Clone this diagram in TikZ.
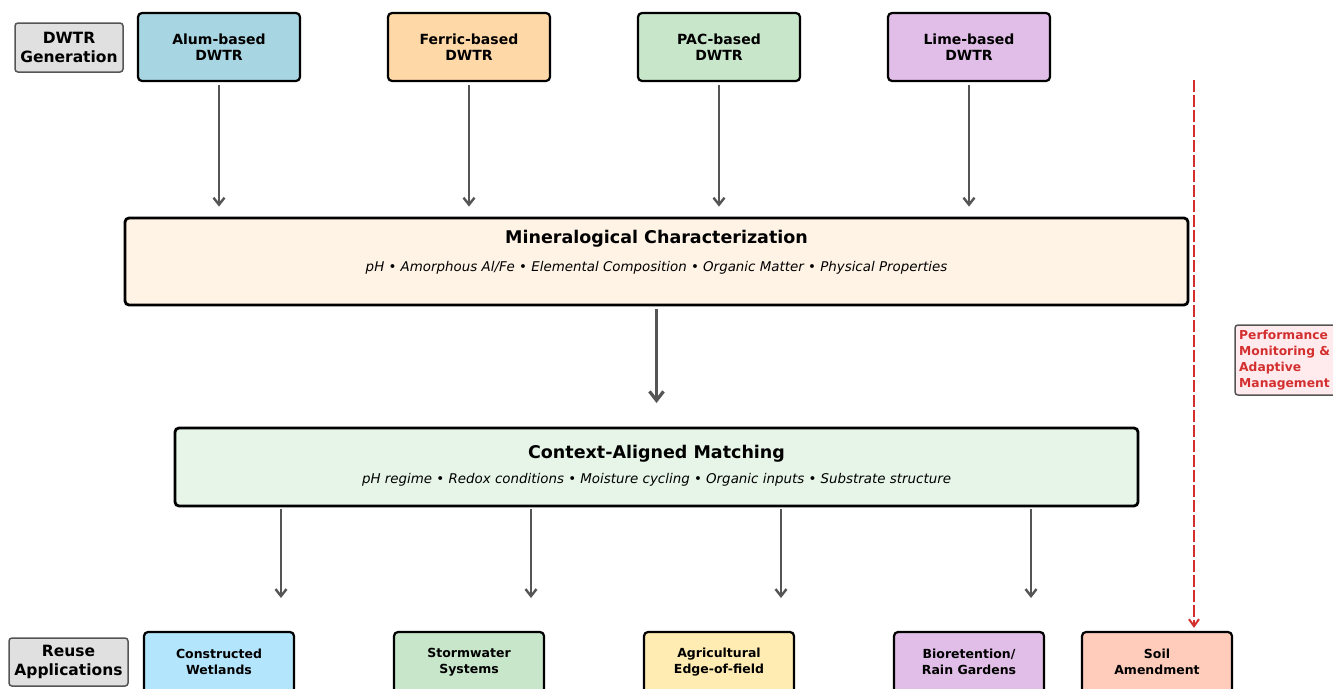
\documentclass[tikz,border=0pt]{standalone}
\usepackage{fontspec}
\setmainfont{DejaVu Sans}
\usetikzlibrary{arrows.meta}
\definecolor{alumc}{HTML}{A8D5E2}
\definecolor{ferricc}{HTML}{FFD8A8}
\definecolor{pacc}{HTML}{C8E6C9}
\definecolor{limec}{HTML}{E1BEE7}
\definecolor{labelc}{HTML}{E0E0E0}
\definecolor{edgegray}{HTML}{555555}
\definecolor{minc}{HTML}{FFF3E5}
\definecolor{ctxc}{HTML}{E6F5E8}
\definecolor{wetc}{HTML}{B3E5FC}
\definecolor{stormc}{HTML}{C8E6C9}
\definecolor{agric}{HTML}{FFECB3}
\definecolor{bioc}{HTML}{E1BEE7}
\definecolor{soilc}{HTML}{FFCCBC}
\definecolor{redc}{HTML}{D32F2F}
\definecolor{perfc}{HTML}{FFEBEE}
\tikzset{
  lblbox/.style={draw=edgegray, line width=1.5pt, rounded corners=3pt, fill=labelc, inner sep=0pt, align=center, font=\fontsize{15.5}{19}\selectfont\bfseries},
  topbox/.style={draw=black, line width=2.2pt, rounded corners=4pt, minimum width=162pt, minimum height=68pt, inner sep=0pt, align=center, font=\fontsize{14}{16}\selectfont\bfseries},
  botbox/.style={draw=black, line width=2.2pt, rounded corners=4pt, minimum width=150pt, minimum height=68pt, inner sep=0pt},
  bottxt/.style={inner sep=0pt, align=center, font=\fontsize{12.5}{16}\selectfont\bfseries},
  mainbox/.style={draw=black, line width=2.8pt, rounded corners=4pt, inner sep=0pt},
  maintitle/.style={inner sep=0pt, font=\fontsize{17.5}{20}\selectfont\bfseries},
  mainsub/.style={inner sep=0pt, font=\fontsize{13.4}{16}\selectfont\itshape},
  arr/.style={draw=edgegray, line width=2.4pt, -{Straight Barb[length=7pt,width=11pt,line width=2.4pt]}},
  bigarr/.style={draw=edgegray, line width=3.2pt, -{Straight Barb[length=9pt,width=14pt,line width=3.2pt]}},
  redarr/.style={draw=redc, line width=2pt, dash pattern=on 12pt off 3pt, -{Straight Barb[length=7pt,width=10pt,line width=2pt]}},
}
\begin{document}
\begin{tikzpicture}[x=1pt,y=-1pt]
\useasboundingbox (0,0) rectangle (1333,688);
\clip (0,0) rectangle (1333,688);

% row labels
\node[lblbox, minimum width=108pt, minimum height=49pt] (genlbl) at (69,47.5) {DWTR\\Generation};
\node[lblbox, minimum width=119pt, minimum height=48pt] (reulbl) at (68.5,662) {Reuse\\Applications};

% top boxes
\node[topbox, fill=alumc] (alum) at (219,47) {Alum-based\\DWTR};
\node[topbox, fill=ferricc] (ferric) at (469,47) {Ferric-based\\DWTR};
\node[topbox, fill=pacc] (pac) at (719,47) {PAC-based\\DWTR};
\node[topbox, fill=limec] (lime) at (969,47) {Lime-based\\DWTR};

% mineralogical characterization
\node[mainbox, fill=minc, minimum width=1063pt, minimum height=87pt] (mineral) at (656.5,261.5) {};
\node[maintitle] (mintitle) at (656.5,239) {Mineralogical Characterization};
\node[mainsub] (minsub) at (656.5,268) {pH • Amorphous Al/Fe • Elemental Composition • Organic Matter • Physical Properties};

% context-aligned matching
\node[mainbox, fill=ctxc, minimum width=963pt, minimum height=78pt] (context) at (656.5,467) {};
\node[maintitle] (ctxtitle) at (656.5,454) {Context-Aligned Matching};
\node[mainsub] (ctxsub) at (656.5,480) {pH regime • Redox conditions • Moisture cycling • Organic inputs • Substrate structure};

% bottom boxes
\node[botbox, fill=wetc] (wet) at (219,666) {};
\node[bottxt] (wett) at (219,662) {Constructed\\Wetlands};
\node[botbox, fill=stormc] (storm) at (469,666) {};
\node[bottxt] (stormt) at (469,662) {Stormwater\\Systems};
\node[botbox, fill=agric] (agri) at (719,666) {};
\node[bottxt] (agrit) at (719,662) {Agricultural\\Edge-of-field};
\node[botbox, fill=bioc] (bio) at (969,666) {};
\node[bottxt] (biot) at (969,662) {Bioretention/\\Rain Gardens};
\node[botbox, fill=soilc] (soil) at (1157,666) {};
\node[bottxt] (soilt) at (1157,662) {Soil\\Amendment};

% performance monitoring
\node[draw=edgegray, line width=1.5pt, rounded corners=3pt, fill=perfc, minimum width=110pt, minimum height=70pt, inner sep=0pt] (perf) at (1290,360) {};
\node[anchor=west, inner sep=0pt, align=left, text=redc, font=\fontsize{12.3}{16}\selectfont\bfseries] (perft) at (1239,360) {Performance\\Monitoring \&\\Adaptive\\Management};

% arrows top -> mineral
\foreach \n in {alum,ferric,pac,lime}{
  \draw[arr, shorten <=3pt, shorten >=10pt] (\n.south) -- (\n.south |- mineral.north);
}
% mineral -> context
\coordinate (bigtip) at (656.5,403);
\draw[bigarr, shorten <=3pt] (mineral.south) -- (bigtip);
% context -> applications
\coordinate (c1) at (281,598);
\coordinate (c2) at (531,598);
\coordinate (c3) at (781,598);
\coordinate (c4) at (1031,598);
\foreach \c in {c1,c2,c3,c4}{
  \draw[arr, shorten <=2pt] (context.south -| \c) -- (\c);
}
% feedback red dashed
\coordinate (rtop) at (1194,80);
\draw[redarr, shorten >=3pt] (rtop) -- (rtop |- soil.north);
\end{tikzpicture}
\end{document}
